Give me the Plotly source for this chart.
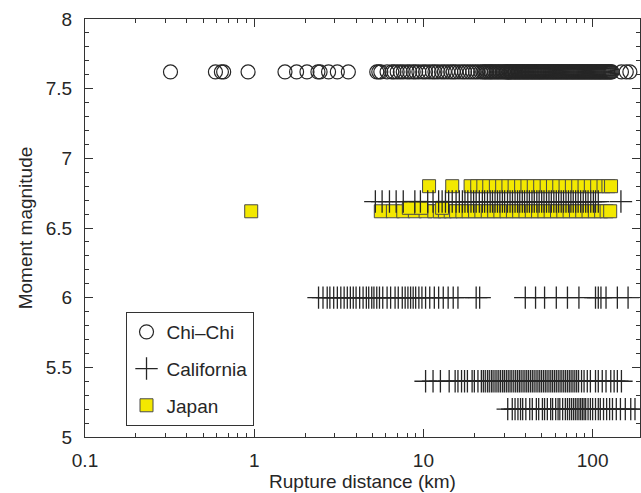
import plotly.graph_objects as go

# Chi-Chi records (Mw 7.62)
chichi_mag = 7.62
chichi_dist = [
    0.32, 0.59, 0.64, 0.66, 0.92, 1.52, 1.78, 2.05, 2.38, 2.45, 2.75, 3.1, 3.6,
    5.3, 5.45, 5.6, 6.1, 6.5, 6.7, 7.0, 7.3, 7.6, 8.0, 8.3, 8.7, 9.0, 9.4, 9.9,
    10.3, 10.8, 11.3, 11.7, 12.2, 12.8, 13.3, 13.9, 14.5, 15.0, 15.5, 16.2, 16.9,
    17.5, 18.2, 18.9, 19.6, 20.3, 21.0, 21.8, 22.4, 22.9, 23.3, 23.8, 24.3, 24.8,
    25.2, 25.7, 26.3, 26.8, 27.4, 27.9, 28.5, 29.1, 29.7,
    30.3, 30.8, 31.2, 31.5, 32.1, 32.6, 33.0, 33.4, 34.0, 34.5, 34.9, 35.3, 35.9,
    36.4, 36.8, 37.3, 37.9, 38.4, 38.9, 39.5, 40.0, 40.6, 41.1, 41.7, 42.2, 42.9,
    43.5, 44.0, 44.7, 45.3, 45.9, 46.6, 47.2, 47.9, 48.5, 49.2, 49.9, 50.6, 51.3,
    52.0, 52.8, 53.5, 54.3, 55.0, 55.8, 56.6, 57.4, 58.2, 59.0, 59.9, 60.7, 61.6,
    62.4, 63.3, 64.2, 65.1, 66.0, 67.0, 67.9, 68.9, 69.9, 70.8, 71.8, 72.9, 73.9,
    75.0, 76.0, 77.1, 78.2, 79.3, 80.4, 81.6, 82.7, 83.9, 85.1, 86.3, 87.5, 88.8,
    90.0, 91.3, 92.6, 93.9, 95.3, 96.6, 98.0, 99.4, 100.8, 102.3, 103.7, 105.2,
    106.7, 108.2, 109.8, 111.3, 112.9, 114.5, 116.2, 117.8, 119.5, 121.2, 122.9,
    124.7, 126.5, 128.3, 130.1, 148.0, 158.0, 166.0,
]

# California records, grouped by event magnitude
cal_m669_dist = [
    5.2, 5.7, 6.3, 6.9, 7.6, 8.9, 9.6, 10.6, 11.4, 12.3, 12.9, 13.5, 14.1, 14.8,
    15.6, 16.3, 17.0, 17.6, 18.3, 19.1, 19.8, 20.5, 21.4, 22.3, 23.0, 23.9, 24.8,
    25.6, 26.5, 27.4, 28.3, 29.3, 30.2, 31.4, 32.5, 33.6, 34.8, 36.0, 37.1, 38.4,
    39.6, 41.0, 42.3, 43.8, 45.2, 46.8, 48.3, 50.0, 51.6, 53.4, 55.2, 57.0, 59.0,
    61.0, 63.0, 65.2, 67.3, 69.6, 72.0, 74.4, 76.8, 79.4, 82.1, 85.0, 88.0, 91.0,
    94.0, 97.5, 101.0, 104.0, 108.0, 147.0,
]
cal_m600_dist = [
    2.4, 2.55, 2.7, 2.8, 2.95, 3.1, 3.25, 3.4, 3.55, 3.7, 3.85, 4.0, 4.2, 4.4,
    4.6, 4.75, 4.95, 5.1, 5.3, 5.5, 5.75, 6.1, 6.4, 6.8, 7.1, 7.5, 7.8, 8.1, 8.4,
    8.7, 9.0, 9.4, 9.8, 10.3, 10.9, 11.6, 12.3, 13.1, 14.0, 15.0, 16.0, 20.5,
    21.5, 40.0, 46.0, 52.0, 61.0, 71.0, 83.0, 104.0, 108.0, 112.0, 120.0, 140.0,
    162.0,
]
cal_m540_dist = [
    10.3, 11.4, 12.6, 14.2, 15.4, 16.0, 16.8, 17.5, 18.2, 19.4, 20.0, 21.0, 22.0,
    22.6, 23.2, 23.9, 24.5, 25.2, 25.8, 26.5, 27.2, 27.9, 28.6, 29.4, 30.1, 30.9,
    31.7, 32.5, 33.3, 34.2, 35.1, 36.0, 36.9, 37.8, 38.8, 39.8, 40.8, 41.8, 42.9,
    44.0, 45.1, 46.3, 47.5, 48.7, 49.9, 51.2, 52.5, 53.8, 55.2, 56.6, 58.0, 59.5,
    61.0, 62.6, 64.2, 65.8, 67.5, 69.2, 71.0, 72.8, 74.6, 76.5, 78.5, 80.5, 82.6,
    86.0, 89.0, 93.0, 97.0, 104.0, 108.0, 114.0, 120.0, 128.0, 134.0, 140.0, 148.0,
]
cal_m520_dist = [
    31.5, 33.5, 34.8, 36.2, 37.5, 38.6, 40.3, 42.5, 44.0, 46.5, 48.0, 50.5, 52.0,
    54.0, 56.5, 58.0, 60.5, 62.5, 64.0, 66.5, 69.0, 71.0, 73.0, 75.0, 77.0, 79.0,
    81.0, 83.0, 85.0, 87.0, 89.0, 91.0, 94.0, 97.0, 100.0, 104.0, 108.0, 111.0,
    116.0, 121.0, 126.0, 131.0, 138.0, 146.0, 156.0, 168.0, 178.0,
]

# Japan records
jp_m680_dist = [
    10.8, 14.8, 19.0, 20.8, 22.6, 24.5, 26.8, 29.2, 31.8, 34.6, 37.8, 41.2, 44.9,
    49.0, 53.5, 58.3, 63.5, 69.2, 75.4, 82.2, 89.6, 97.6, 106.4, 116.0, 124.0,
    128.5,
]
jp_m662_dist = [
    0.96, 5.6, 6.6, 7.6, 8.9, 10.3, 11.6, 12.5, 13.4, 14.5, 15.6, 17.0, 18.5,
    20.2, 22.0, 24.0, 26.2, 28.5, 31.0, 33.8, 36.8, 40.1, 43.7, 47.6, 51.9,
    56.5, 61.6, 67.1, 73.1, 79.7, 86.8, 94.6, 103.1, 112.3, 121.0, 127.0,
]
jp_m665_dist = [8.2, 9.7, 12.9]

x_ticks = [0.1, 1, 10, 100]
x_tick_text = ["0.1", "1", "10", "100"]
y_ticks = [5, 5.5, 6, 6.5, 7, 7.5, 8]
y_tick_text = ["5", "5.5", "6", "6.5", "7", "7.5", "8"]

INK = "#262626"
FONT = "Liberation Sans, Arial, Helvetica, sans-serif"
FS = 19

fig = go.Figure()

jp_x = jp_m680_dist + jp_m662_dist + jp_m665_dist
jp_y = [6.80] * len(jp_m680_dist) + [6.62] * len(jp_m662_dist) + [6.645] * len(jp_m665_dist)
fig.add_trace(go.Scatter(
    x=jp_x, y=jp_y, mode="markers", name="Japan", legendrank=3,
    legendgroup="jp",
    marker=dict(symbol="square", size=13, color="#f3e800",
                line=dict(color="#4a4a4a", width=1)),
))

cal_x = cal_m669_dist + cal_m600_dist + cal_m540_dist + cal_m520_dist
cal_y = ([6.69] * len(cal_m669_dist) + [6.00] * len(cal_m600_dist)
         + [5.40] * len(cal_m540_dist) + [5.20] * len(cal_m520_dist))
fig.add_trace(go.Scatter(
    x=cal_x, y=cal_y, mode="markers", name="California", legendrank=2,
    legendgroup="cal",
    marker=dict(symbol="cross-thin", size=16, color=INK,
                line=dict(color=INK, width=1.3)),
))

fig.add_trace(go.Scatter(
    x=chichi_dist, y=[chichi_mag] * len(chichi_dist), mode="markers",
    name="Chi\u2013Chi", legendrank=1, legendgroup="cc",
    marker=dict(symbol="circle-open", size=14, color=INK,
                line=dict(color=INK, width=1.2)),
))

axis_common = dict(
    showline=True, linecolor="#333333", linewidth=1, mirror="ticks",
    ticks="inside", ticklen=8, tickwidth=1, tickcolor="#333333",
    showgrid=False, zeroline=False,
    tickfont=dict(family=FONT, size=FS, color=INK),
)

fig.update_layout(
    width=641, height=493,
    margin=dict(l=85, r=1, t=19, b=56),
    paper_bgcolor="white", plot_bgcolor="white",
    font=dict(family=FONT, color=INK),
    showlegend=True,
    legend=dict(
        x=0.073, y=0.299, xanchor="left", yanchor="top",
        bgcolor="white", bordercolor="#333333", borderwidth=1,
        font=dict(family=FONT, size=FS, color=INK),
        tracegroupgap=9, itemsizing="trace", entrywidth=92,
    ),
    xaxis=dict(
        type="log", range=[-1, 2.28],
        tickvals=x_ticks, ticktext=x_tick_text,
        ticklabelstandoff=6,
        minor=dict(ticks="inside", ticklen=4, tickcolor="#333333",
                   tickvals=[m * d for d in (0.1, 1, 10, 100) for m in range(2, 10)]),
        title=dict(text="Rupture distance (km)", standoff=4,
                   font=dict(family=FONT, size=FS, color=INK)),
        **axis_common,
    ),
    yaxis=dict(
        range=[5, 8], tickvals=y_ticks, ticktext=y_tick_text,
        ticklabelstandoff=8,
        minor=dict(ticks="inside", ticklen=4, tickcolor="#333333", dtick=0.1),
        title=dict(text="Moment magnitude", standoff=8,
                   font=dict(family=FONT, size=FS, color=INK)),
        **axis_common,
    ),
)

fig.write_html("out.html")
